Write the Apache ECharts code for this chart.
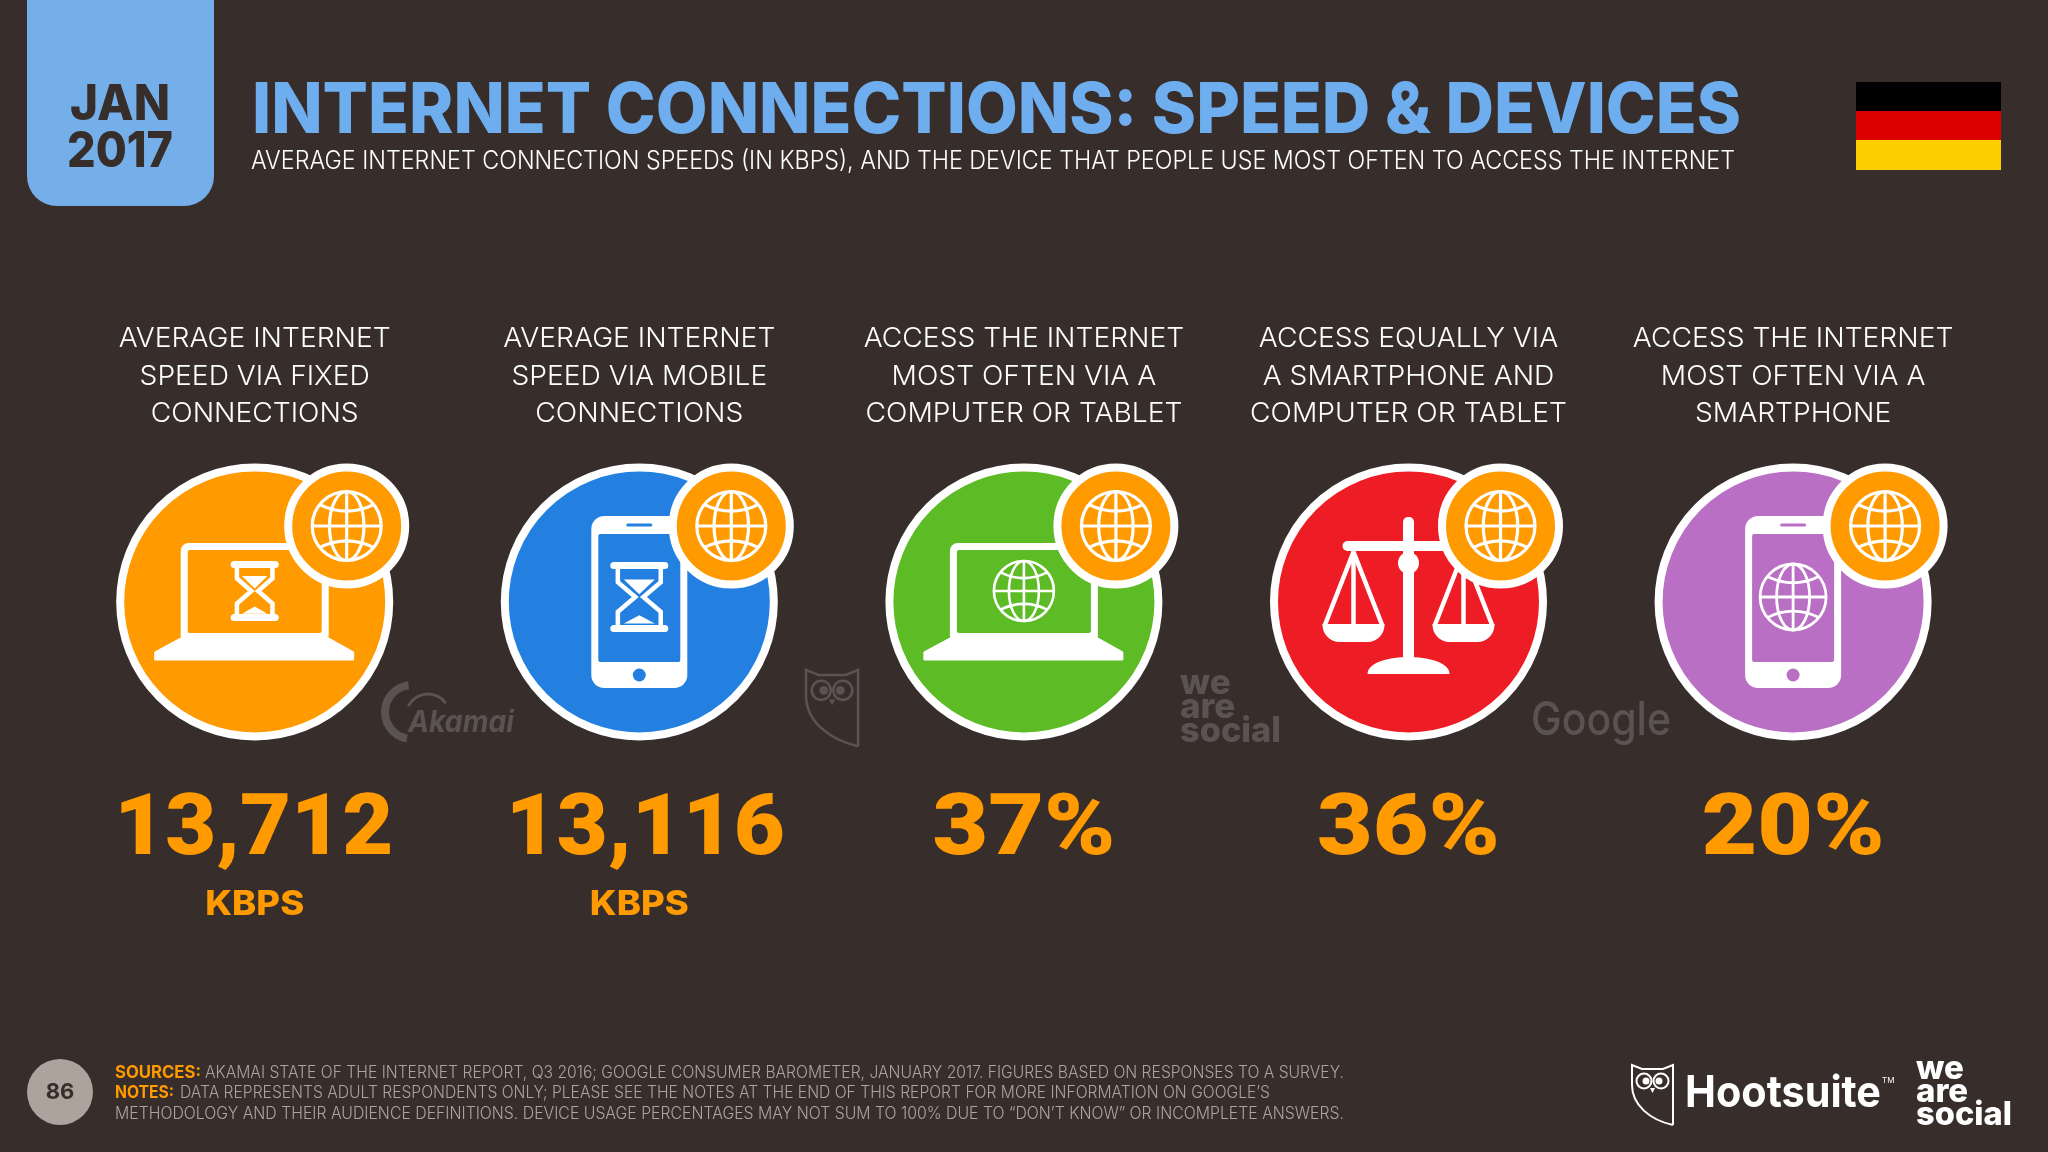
<!DOCTYPE html>
<html>
<head>
<meta charset="utf-8">
<style>html,body{margin:0;padding:0;background:#372e2c}#main{width:2048px;height:1152px}</style>
<script src="https://cdn.jsdelivr.net/npm/echarts@6/dist/echarts.min.js"></script>
</head>
<body>
<div id="main"></div>
<script>
// chart data
const headers = [
    ['AVERAGE INTERNET', 'SPEED VIA FIXED', 'CONNECTIONS'],
    ['AVERAGE INTERNET', 'SPEED VIA MOBILE', 'CONNECTIONS'],
    ['ACCESS THE INTERNET', 'MOST OFTEN VIA A', 'COMPUTER OR TABLET'],
    ['ACCESS EQUALLY VIA', 'A SMARTPHONE AND', 'COMPUTER OR TABLET'],
    ['ACCESS THE INTERNET', 'MOST OFTEN VIA A', 'SMARTPHONE']
];
const categories = ['fixed', 'mobile', 'computer', 'equal', 'smartphone'];
const values = [13712, 13116, 37, 36, 20];
const suffixes = ['', '', '%', '%', '%'];
const units = ['KBPS', 'KBPS', '', '', ''];
const icons = ['laptopWait', 'phoneWait', 'laptopGlobe', 'scales', 'phoneGlobe'];

// colours
const BG = '#372e2c';
const ORANGE = '#ff9a00';
const WHITE = '#ffffff';
const BLUE_TITLE = '#6eaeee';
const GREY = '#aca39c';
const WATERMARK = '#5b5351';
const circleColors = ['#ff9a00', '#2380e0', '#5dbb25', '#ee1c25', '#b96fc4'];

const FONT = 'Inter, "Noto Sans", sans-serif';
const ctx = document.createElement('canvas').getContext('2d');
// 算出横向缩放,让文字宽度对上原图
function fit(text, font, width) {
    ctx.font = font;
    return width / ctx.measureText(text).width;
}
function txt(x, y, text, font, fill, align, sx) {
    return {
        type: 'text', x: x, y: y, scaleX: sx || 1, silent: true,
        style: {text: text, font: font, fill: fill, align: align || 'left', verticalAlign: 'middle',
            textAlign: align || 'left', textVerticalAlign: 'middle'}
    };
}
function stroke(color, lw) {
    return {fill: 'none', stroke: color, lineWidth: lw};
}
function globe(cx, cy, r, lw, color) {
    const s = stroke(color, lw);
    return {
        type: 'group', x: cx, y: cy, children: [
            {type: 'circle', shape: {cx: 0, cy: 0, r: r}, style: s},
            {type: 'ellipse', shape: {cx: 0, cy: 0, rx: r * 0.5, ry: r}, style: s},
            {type: 'line', shape: {x1: 0, y1: -r, x2: 0, y2: r}, style: s},
            {type: 'line', shape: {x1: -r, y1: 0, x2: r, y2: 0}, style: s},
            {type: 'bezierCurve', shape: {x1: -r * 0.78, y1: -r * 0.62, x2: r * 0.78, y2: -r * 0.62, cpx1: 0, cpy1: -r * 0.24}, style: s},
            {type: 'bezierCurve', shape: {x1: -r * 0.78, y1: r * 0.62, x2: r * 0.78, y2: r * 0.62, cpx1: 0, cpy1: r * 0.24}, style: s}
        ]
    };
}
function hourglass(cx, cy, w, h) {
    const g = w * 0.74;
    const side = function (d) {
        return {
            type: 'polyline', style: stroke(WHITE, 4.5),
            shape: {points: [[d * g, -h + 4], [d * g, -h * 0.42], [d * w * 0.14, 0], [d * g, h * 0.42], [d * g, h - 4]]}
        };
    };
    return {
        type: 'group', x: cx, y: cy, children: [
            side(-1), side(1),
            {type: 'polygon', shape: {points: [[-g * 0.72, -h * 0.5], [g * 0.72, -h * 0.5], [0, -h * 0.08]]}, style: {fill: WHITE}},
            {type: 'polygon', shape: {points: [[-g * 0.72, h * 0.76], [g * 0.72, h * 0.76], [0, h * 0.52]]}, style: {fill: WHITE}},
            {type: 'rect', shape: {x: -w, y: -h, width: w * 2, height: 7, r: 3.5}, style: {fill: WHITE}},
            {type: 'rect', shape: {x: -w, y: h - 7, width: w * 2, height: 7, r: 3.5}, style: {fill: WHITE}}
        ]
    };
}
function laptop(fillColor) {
    return [
        {type: 'rect', shape: {x: -74, y: -59, width: 148, height: 101, r: 8}, style: {fill: WHITE}},
        {type: 'rect', shape: {x: -67, y: -52, width: 134, height: 83, r: 2}, style: {fill: fillColor}},
        {type: 'polygon', shape: {points: [[-74, 36], [74, 36], [99, 50], [99, 58], [-100, 58], [-100, 50]]}, style: {fill: WHITE, stroke: WHITE, lineWidth: 1, lineJoin: 'round'}}
    ];
}
function phone(fillColor) {
    return [
        {type: 'rect', shape: {x: -48, y: -86, width: 96, height: 172, r: 13}, style: {fill: WHITE}},
        {type: 'rect', shape: {x: -41, y: -68, width: 82, height: 128, r: 2}, style: {fill: fillColor}},
        {type: 'rect', shape: {x: -13, y: -78.5, width: 26, height: 3, r: 1.5}, style: {fill: fillColor}},
        {type: 'circle', shape: {cx: 0, cy: 73, r: 6.5}, style: {fill: fillColor}}
    ];
}
function pan(dx) {
    const s = stroke(WHITE, 4.5);
    return {
        type: 'group', x: dx, y: 0, children: [
            {type: 'polyline', shape: {points: [[-29, 24], [0, -50], [29, 24]]}, style: s},
            {type: 'line', shape: {x1: 0, y1: -50, x2: 0, y2: 24}, style: s},
            {type: 'rect', shape: {x: -31, y: 22, width: 62, height: 18, r: [0, 0, 17, 17]}, style: {fill: WHITE}}
        ]
    };
}
function scales() {
    return [
        pan(-55), pan(55),
        {type: 'rect', shape: {x: -5.5, y: -85, width: 11, height: 145, r: [5, 5, 0, 0]}, style: {fill: WHITE}},
        {type: 'rect', shape: {x: -66, y: -61, width: 132, height: 10, r: 5}, style: {fill: WHITE}},
        {type: 'ellipse', shape: {cx: 0, cy: -39, rx: 10.5, ry: 11}, style: {fill: WHITE}},
        {type: 'path', shape: {pathData: 'M-41 72 C-41 60 -18 55 0 55 C18 55 41 60 41 72 Z', x: -41, y: 55, width: 82, height: 17, layout: 'cover'}, style: {fill: WHITE}}
    ];
}
function iconFor(name, color) {
    if (name === 'laptopWait') return laptop(color).concat(hourglass(0, -11, 24, 30));
    if (name === 'phoneWait') return phone(color).concat(hourglass(0, -5, 29, 35));
    if (name === 'laptopGlobe') return laptop(color).concat(globe(0, -11, 30, 2.6, WHITE));
    if (name === 'phoneGlobe') return phone(color).concat(globe(0, -5, 33, 2.8, WHITE));
    return scales();
}

// 每一列:标题、大圆、图标、角标、数值
const HEAD_FONT = '300 27px ' + FONT;
const headScale = fit('AVERAGE INTERNET', HEAD_FONT, 272);
const VALUE_FONT = '900 86px Roboto, ' + FONT;
const kbpsScale = fit('13,712', VALUE_FONT, 279);
const pctScale = fit('37%', VALUE_FONT, 183);
const UNIT_FONT = '800 34px ' + FONT;
const unitScale = fit('KBPS', UNIT_FONT, 99);
const valueNudge = [-1, 6, 0, 0, 0];

function renderColumn(params, api) {
    const i = params.dataIndex;
    const x = api.coord([i, 0])[0];
    const y = params.coordSys.y + params.coordSys.height / 2;
    const children = [];
    headers[i].forEach(function (line, n) {
        children.push(txt(0, [-263.5, -225.5, -188.5][n], line, HEAD_FONT, WHITE, 'center', headScale));
    });
    children.push({type: 'circle', shape: {cx: 0, cy: 0, r: 134.5}, style: {fill: circleColors[i], stroke: WHITE, lineWidth: 8}});
    children.push.apply(children, iconFor(icons[i], circleColors[i]));
    children.push({type: 'circle', shape: {cx: 92, cy: -76, r: 58.5}, style: {fill: ORANGE, stroke: WHITE, lineWidth: 8}});
    children.push(globe(92, -76, 34.5, 3.2, WHITE));
    const label = values[i].toLocaleString('en-US') + suffixes[i];
    children.push(txt(valueNudge[i], 230, label, VALUE_FONT, ORANGE, 'center', suffixes[i] ? pctScale : kbpsScale));
    if (units[i]) children.push(txt(0, 303, units[i], UNIT_FONT, ORANGE, 'center', unitScale));
    return {type: 'group', x: x, y: y, children: children};
}

function owl(x, y, k, color, lw) {
    const s = stroke(color, lw);
    return {
        type: 'group', x: x, y: y, scaleX: k, scaleY: k, silent: true, children: [
            {type: 'polyline', shape: {points: [[0, 20], [0, 0], [10, 4], [31, 4], [41, 0], [41, 60]]}, style: s},
            {type: 'bezierCurve', shape: {x1: 41, y1: 60, x2: 0, y2: 20, cpx1: 18, cpy1: 55, cpx2: 0, cpy2: 40}, style: s},
            {type: 'circle', shape: {cx: 12, cy: 16, r: 7.5}, style: s},
            {type: 'circle', shape: {cx: 29, cy: 16, r: 7.5}, style: s},
            {type: 'circle', shape: {cx: 14, cy: 16, r: 3.5}, style: {fill: color}},
            {type: 'circle', shape: {cx: 27, cy: 16, r: 3.5}, style: {fill: color}},
            {type: 'polygon', shape: {points: [[18, 23], [23, 23], [20.5, 28]]}, style: {fill: color}}
        ]
    };
}

const footFont = '300 17px ' + FONT;
const footBold = '700 17px ' + FONT;
const LINE_SOURCES = 'AKAMAI STATE OF THE INTERNET REPORT, Q3 2016; GOOGLE CONSUMER BAROMETER, JANUARY 2017. FIGURES BASED ON RESPONSES TO A SURVEY.';
const LINE_NOTES = 'DATA REPRESENTS ADULT RESPONDENTS ONLY; PLEASE SEE THE NOTES AT THE END OF THIS REPORT FOR MORE INFORMATION ON GOOGLE\u2019S';
const LINE_NOTES2 = 'METHODOLOGY AND THEIR AUDIENCE DEFINITIONS. DEVICE USAGE PERCENTAGES MAY NOT SUM TO 100% DUE TO \u201CDON\u2019T KNOW\u201D OR INCOMPLETE ANSWERS.';
const TITLE = 'INTERNET CONNECTIONS: SPEED & DEVICES';
const SUBTITLE = 'AVERAGE INTERNET CONNECTION SPEEDS (IN KBPS), AND THE DEVICE THAT PEOPLE USE MOST OFTEN TO ACCESS THE INTERNET';
const titleFont = '800 70px ' + FONT;
const subFont = '300 25px ' + FONT;

const staticParts = [
    // 左上角标签
    {type: 'rect', shape: {x: 27, y: -30, width: 187, height: 236, r: 30}, style: {fill: '#74afe9'}},
    txt(120, 105, 'JAN', '800 50px ' + FONT, BG, 'center', fit('JAN', '800 50px ' + FONT, 100)),
    txt(120, 152, '2017', '800 50px ' + FONT, BG, 'center', fit('2017', '800 50px ' + FONT, 106)),
    txt(252, 112, TITLE, titleFont, BLUE_TITLE, 'left', fit(TITLE, titleFont, 1489)),
    txt(251, 161, SUBTITLE, subFont, WHITE, 'left', fit(SUBTITLE, subFont, 1484)),
    // 国旗
    {type: 'rect', shape: {x: 1856, y: 82, width: 145, height: 29}, style: {fill: '#000000'}},
    {type: 'rect', shape: {x: 1856, y: 111, width: 145, height: 29}, style: {fill: '#dd0000'}},
    {type: 'rect', shape: {x: 1856, y: 140, width: 145, height: 30}, style: {fill: '#ffce00'}},
    // 水印
    {type: 'arc', shape: {cx: 412, cy: 712, r: 27, startAngle: Math.PI * 0.56, endAngle: Math.PI * 1.46}, style: stroke(WATERMARK, 8)},
    {type: 'arc', shape: {cx: 428, cy: 716, r: 22, startAngle: Math.PI * 1.15, endAngle: Math.PI * 1.8}, style: stroke(WATERMARK, 3)},
    txt(408, 723, 'Akamai', 'italic 700 30px ' + FONT, WATERMARK, 'left', fit('Akamai', 'italic 700 30px ' + FONT, 106)),
    owl(806, 670, 1.27, WATERMARK, 2),
    txt(1180, 683, 'we', '800 35px ' + FONT, WATERMARK),
    txt(1180, 707, 'are', '800 35px ' + FONT, WATERMARK),
    txt(1180, 731, 'social', '800 35px ' + FONT, WATERMARK, 'left', fit('social', '800 35px ' + FONT, 101)),
    txt(1531, 721, 'Google', '500 46px ' + FONT, WATERMARK, 'left', fit('Google', '500 46px ' + FONT, 140)),
    // 页脚
    {type: 'circle', shape: {cx: 60, cy: 1092, r: 33}, style: {fill: GREY}},
    txt(60, 1092, '86', '700 22px ' + FONT, BG, 'center'),
    txt(115, 1073, 'SOURCES:', footBold, ORANGE, 'left', fit('SOURCES:', footBold, 86)),
    txt(205, 1073, LINE_SOURCES, footFont, GREY, 'left', fit(LINE_SOURCES, footFont, 1139)),
    txt(115, 1093, 'NOTES:', footBold, ORANGE, 'left', fit('NOTES:', footBold, 59)),
    txt(180, 1093, LINE_NOTES, footFont, GREY, 'left', fit(LINE_NOTES, footFont, 1090)),
    txt(115, 1114, LINE_NOTES2, footFont, GREY, 'left', fit(LINE_NOTES2, footFont, 1229)),
    // 右下角 logo
    owl(1632, 1065, 1, WHITE, 2),
    txt(1685, 1094, 'Hootsuite', '700 44px ' + FONT, WHITE, 'left', fit('Hootsuite', '700 44px ' + FONT, 196)),
    txt(1882, 1081, 'TM', '400 8px ' + FONT, WHITE),
    txt(1916, 1069, 'we', '800 33px ' + FONT, WHITE),
    txt(1916, 1092, 'are', '800 33px ' + FONT, WHITE),
    txt(1916, 1115, 'social', '800 33px ' + FONT, WHITE, 'left', fit('social', '800 33px ' + FONT, 96))
];

const chart = echarts.init(document.getElementById('main'), null, {renderer: 'canvas'});
chart.setOption({
    animation: false,
    backgroundColor: BG,
    grid: {left: 62.4, width: 1923, top: 463, height: 278},
    xAxis: {type: 'category', data: categories, show: false},
    yAxis: {type: 'value', min: 0, max: 14000, show: false},
    graphic: {elements: staticParts},
    series: [{
        type: 'custom',
        clip: false,
        silent: true,
        renderItem: renderColumn,
        encode: {x: 0, y: 1},
        data: values.map(function (v, i) { return [i, v]; })
    }]
});
</script>
</body>
</html>
